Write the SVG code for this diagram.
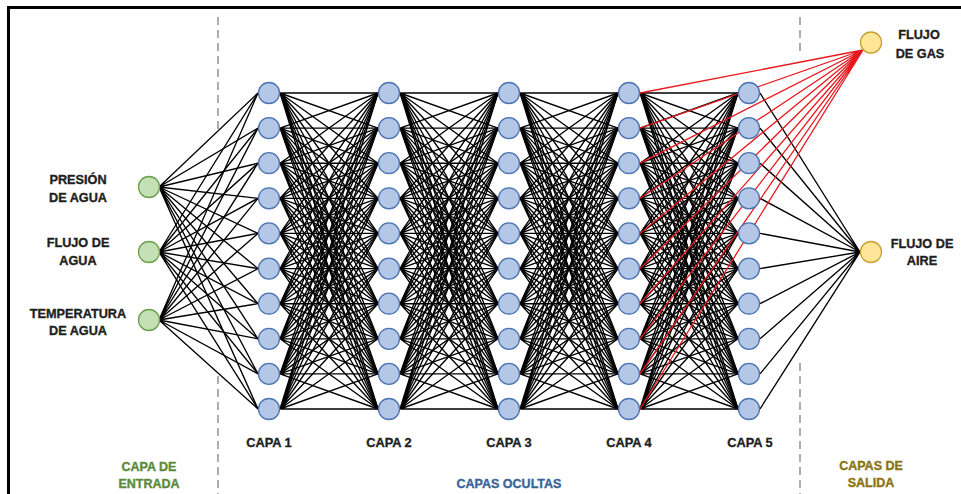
<svg xmlns="http://www.w3.org/2000/svg" xmlns:xlink="http://www.w3.org/1999/xlink" width="961" height="494" viewBox="0 0 961 494">
<style>
.bg{fill:#fff}
.frame{fill:none;stroke:#000;stroke-width:3}
.dash{stroke:#9a9a9a;stroke-width:1.6;stroke-dasharray:8 5;fill:none}
.e{fill:none;stroke:#000;stroke-width:1.35}
.r{fill:none;stroke:#e8191e;stroke-width:1.3}
.hid{fill:#b4c7e7;stroke:#4a74b4;stroke-width:1.3}
.inp{fill:#c5e0b4;stroke:#6a9f4a;stroke-width:1.3}
.out{fill:#ffe699;stroke:#c8a032;stroke-width:1.3}
text{font-family:"Liberation Sans",Arial,sans-serif;font-weight:bold;text-anchor:middle;stroke-width:0.35;paint-order:stroke}
.lbl{font-size:12.7px;fill:#1f1f1f;stroke:#1f1f1f}
.cap{font-size:12.8px;fill:#1f1f1f;stroke:#1f1f1f}
.ent{font-size:12.5px;fill:#5b8a3a;stroke:#5b8a3a}
.ocu{font-size:12.5px;fill:#3a6499;stroke:#3a6499}
.sal{font-size:12.5px;fill:#8a7310;stroke:#8a7310}
</style>
<defs>
<g id="fan">
<path d="M280 93L378 93M280 93L378 128.1M280 93L378 163.2M280 93L378 198.3M280 93L378 233.4M280 93L378 268.6M280 93L378 303.7M280 93L378 338.8M280 93L378 373.9M280 93L378 409"/>
<path d="M280 128.1L378 93M280 128.1L378 128.1M280 128.1L378 163.2M280 128.1L378 198.3M280 128.1L378 233.4M280 128.1L378 268.6M280 128.1L378 303.7M280 128.1L378 338.8M280 128.1L378 373.9M280 128.1L378 409"/>
<path d="M280 163.2L378 93M280 163.2L378 128.1M280 163.2L378 163.2M280 163.2L378 198.3M280 163.2L378 233.4M280 163.2L378 268.6M280 163.2L378 303.7M280 163.2L378 338.8M280 163.2L378 373.9M280 163.2L378 409"/>
<path d="M280 198.3L378 93M280 198.3L378 128.1M280 198.3L378 163.2M280 198.3L378 198.3M280 198.3L378 233.4M280 198.3L378 268.6M280 198.3L378 303.7M280 198.3L378 338.8M280 198.3L378 373.9M280 198.3L378 409"/>
<path d="M280 233.4L378 93M280 233.4L378 128.1M280 233.4L378 163.2M280 233.4L378 198.3M280 233.4L378 233.4M280 233.4L378 268.6M280 233.4L378 303.7M280 233.4L378 338.8M280 233.4L378 373.9M280 233.4L378 409"/>
<path d="M280 268.6L378 93M280 268.6L378 128.1M280 268.6L378 163.2M280 268.6L378 198.3M280 268.6L378 233.4M280 268.6L378 268.6M280 268.6L378 303.7M280 268.6L378 338.8M280 268.6L378 373.9M280 268.6L378 409"/>
<path d="M280 303.7L378 93M280 303.7L378 128.1M280 303.7L378 163.2M280 303.7L378 198.3M280 303.7L378 233.4M280 303.7L378 268.6M280 303.7L378 303.7M280 303.7L378 338.8M280 303.7L378 373.9M280 303.7L378 409"/>
<path d="M280 338.8L378 93M280 338.8L378 128.1M280 338.8L378 163.2M280 338.8L378 198.3M280 338.8L378 233.4M280 338.8L378 268.6M280 338.8L378 303.7M280 338.8L378 338.8M280 338.8L378 373.9M280 338.8L378 409"/>
<path d="M280 373.9L378 93M280 373.9L378 128.1M280 373.9L378 163.2M280 373.9L378 198.3M280 373.9L378 233.4M280 373.9L378 268.6M280 373.9L378 303.7M280 373.9L378 338.8M280 373.9L378 373.9M280 373.9L378 409"/>
<path d="M280 409L378 93M280 409L378 128.1M280 409L378 163.2M280 409L378 198.3M280 409L378 233.4M280 409L378 268.6M280 409L378 303.7M280 409L378 338.8M280 409L378 373.9M280 409L378 409"/>
</g>
</defs>
<rect class="bg" x="0" y="0" width="961" height="494"/>
<rect class="frame" x="8.5" y="7.5" width="1000" height="1000"/>
<g id="dividers">
<line class="dash" x1="218" y1="17" x2="218" y2="131"/>
<line class="dash" x1="218" y1="376" x2="218" y2="494"/>
<line class="dash" x1="800" y1="17" x2="800" y2="55"/>
<line class="dash" x1="800" y1="363" x2="800" y2="494"/>
</g>
<g id="connectors">
<g class="e" id="in-l1">
<path d="M159 187L258 93M159 187L258 128.1M159 187L258 163.2M159 187L258 198.3M159 187L258 233.4M159 187L258 268.6M159 187L258 303.7M159 187L258 338.8M159 187L258 373.9M159 187L258 409"/>
<path d="M159 252L258 93M159 252L258 128.1M159 252L258 163.2M159 252L258 198.3M159 252L258 233.4M159 252L258 268.6M159 252L258 303.7M159 252L258 338.8M159 252L258 373.9M159 252L258 409"/>
<path d="M159 320L258 93M159 320L258 128.1M159 320L258 163.2M159 320L258 198.3M159 320L258 233.4M159 320L258 268.6M159 320L258 303.7M159 320L258 338.8M159 320L258 373.9M159 320L258 409"/>
</g>
<g class="e" id="hidden-links">
<use xlink:href="#fan" href="#fan" x="0"/>
<use xlink:href="#fan" href="#fan" x="120"/>
<use xlink:href="#fan" href="#fan" x="240"/>
<use xlink:href="#fan" href="#fan" x="360"/>
</g>
<path class="e" id="l5-aire" d="M760 93L860 252M760 128.1L860 252M760 163.2L860 252M760 198.3L860 252M760 233.4L860 252M760 268.6L860 252M760 303.7L860 252M760 338.8L860 252M760 373.9L860 252M760 409L860 252"/>
<path class="r" id="l4-gas" d="M640 93L863 50M640 128.1L863 50M640 163.2L863 50M640 198.3L863 50M640 233.4L863 50M640 268.6L863 50M640 303.7L863 50M640 338.8L863 50M640 373.9L863 50M640 409L863 50"/>
</g>
<g id="input-layer">
<g id="in-presion"><circle class="inp" cx="149" cy="187" r="10.5"/><text class="lbl" x="78" y="184">PRESIÓN</text><text class="lbl" x="78" y="202">DE AGUA</text></g>
<g id="in-flujo"><circle class="inp" cx="149" cy="252" r="10.5"/><text class="lbl" x="78" y="247">FLUJO DE</text><text class="lbl" x="78" y="265">AGUA</text></g>
<g id="in-temp"><circle class="inp" cx="149" cy="320" r="10.5"/><text class="lbl" x="78" y="318">TEMPERATURA</text><text class="lbl" x="78" y="335">DE AGUA</text></g>
</g>
<g id="capa1">
<circle class="hid" cx="269" cy="93" r="10.5"/><circle class="hid" cx="269" cy="128.1" r="10.5"/><circle class="hid" cx="269" cy="163.2" r="10.5"/><circle class="hid" cx="269" cy="198.3" r="10.5"/><circle class="hid" cx="269" cy="233.4" r="10.5"/><circle class="hid" cx="269" cy="268.6" r="10.5"/><circle class="hid" cx="269" cy="303.7" r="10.5"/><circle class="hid" cx="269" cy="338.8" r="10.5"/><circle class="hid" cx="269" cy="373.9" r="10.5"/><circle class="hid" cx="269" cy="409" r="10.5"/>
<text class="cap" x="269" y="447">CAPA 1</text>
</g>
<g id="capa2">
<circle class="hid" cx="389" cy="93" r="10.5"/><circle class="hid" cx="389" cy="128.1" r="10.5"/><circle class="hid" cx="389" cy="163.2" r="10.5"/><circle class="hid" cx="389" cy="198.3" r="10.5"/><circle class="hid" cx="389" cy="233.4" r="10.5"/><circle class="hid" cx="389" cy="268.6" r="10.5"/><circle class="hid" cx="389" cy="303.7" r="10.5"/><circle class="hid" cx="389" cy="338.8" r="10.5"/><circle class="hid" cx="389" cy="373.9" r="10.5"/><circle class="hid" cx="389" cy="409" r="10.5"/>
<text class="cap" x="389" y="447">CAPA 2</text>
</g>
<g id="capa3">
<circle class="hid" cx="509" cy="93" r="10.5"/><circle class="hid" cx="509" cy="128.1" r="10.5"/><circle class="hid" cx="509" cy="163.2" r="10.5"/><circle class="hid" cx="509" cy="198.3" r="10.5"/><circle class="hid" cx="509" cy="233.4" r="10.5"/><circle class="hid" cx="509" cy="268.6" r="10.5"/><circle class="hid" cx="509" cy="303.7" r="10.5"/><circle class="hid" cx="509" cy="338.8" r="10.5"/><circle class="hid" cx="509" cy="373.9" r="10.5"/><circle class="hid" cx="509" cy="409" r="10.5"/>
<text class="cap" x="509" y="447">CAPA 3</text>
</g>
<g id="capa4">
<circle class="hid" cx="629" cy="93" r="10.5"/><circle class="hid" cx="629" cy="128.1" r="10.5"/><circle class="hid" cx="629" cy="163.2" r="10.5"/><circle class="hid" cx="629" cy="198.3" r="10.5"/><circle class="hid" cx="629" cy="233.4" r="10.5"/><circle class="hid" cx="629" cy="268.6" r="10.5"/><circle class="hid" cx="629" cy="303.7" r="10.5"/><circle class="hid" cx="629" cy="338.8" r="10.5"/><circle class="hid" cx="629" cy="373.9" r="10.5"/><circle class="hid" cx="629" cy="409" r="10.5"/>
<text class="cap" x="629" y="447">CAPA 4</text>
</g>
<g id="capa5">
<circle class="hid" cx="749" cy="93" r="10.5"/><circle class="hid" cx="749" cy="128.1" r="10.5"/><circle class="hid" cx="749" cy="163.2" r="10.5"/><circle class="hid" cx="749" cy="198.3" r="10.5"/><circle class="hid" cx="749" cy="233.4" r="10.5"/><circle class="hid" cx="749" cy="268.6" r="10.5"/><circle class="hid" cx="749" cy="303.7" r="10.5"/><circle class="hid" cx="749" cy="338.8" r="10.5"/><circle class="hid" cx="749" cy="373.9" r="10.5"/><circle class="hid" cx="749" cy="409" r="10.5"/>
<text class="cap" x="750" y="447">CAPA 5</text>
</g>
<g id="out-gas"><circle class="out" cx="871" cy="42.5" r="10.5"/><text class="lbl" x="919" y="39">FLUJO</text><text class="lbl" x="920" y="58">DE GAS</text></g>
<g id="out-aire"><circle class="out" cx="871" cy="252" r="10.5"/><text class="lbl" x="922" y="248">FLUJO DE</text><text class="lbl" x="922" y="265">AIRE</text></g>
<g id="section-labels">
<text class="ent" x="149" y="471">CAPA DE</text><text class="ent" x="149" y="488">ENTRADA</text>
<text class="ocu" x="509" y="488">CAPAS OCULTAS</text>
<text class="sal" x="871" y="470">CAPAS DE</text><text class="sal" x="871" y="487">SALIDA</text>
</g>
</svg>
